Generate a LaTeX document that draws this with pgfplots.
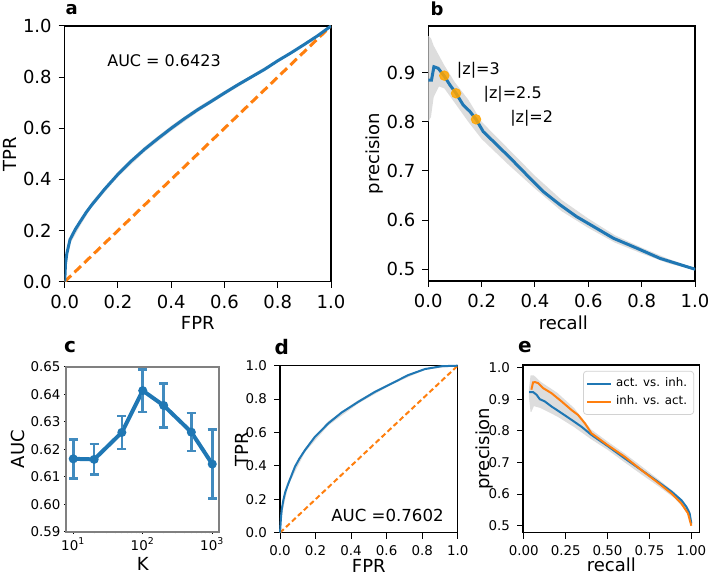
\documentclass[border=0pt]{standalone}
\usepackage{fontspec}
\setmainfont{DejaVu Sans}
\usepackage{pgfplots}
\pgfplotsset{compat=1.18}
\definecolor{mblue}{HTML}{1F77B4}
\definecolor{morange}{HTML}{FF7F0E}
\definecolor{dotor}{HTML}{FFA500}
\definecolor{band}{HTML}{DDDDDD}

\pgfplotsset{
  mpl/.style={
    scale only axis,
    anchor=south west,
    tick align=outside,
    tick pos=left,
    major tick length=3pt,
    minor tick length=1.7pt,
    every tick/.style={black,line width=0.5pt},
    axis line style={line width=0.6pt},
    /pgf/number format/assume math mode=true,
    title style={anchor=center,yshift=-6pt},
  },
  big/.style={
    ticklabel style={font=\fontsize{9}{11}\selectfont},
    label style={font=\fontsize{9}{11}\selectfont},
    title style={font=\bfseries\fontsize{9}{11}\selectfont},
  },
  small/.style={
    ticklabel style={font=\fontsize{6.7}{8}\selectfont},
    label style={font=\fontsize{9}{11}\selectfont},
    title style={font=\bfseries\fontsize{10}{12}\selectfont},
  },
}

\begin{document}
\begin{tikzpicture}
\useasboundingbox (0,0) rectangle (356pt,287pt);

% a: ROC
\begin{axis}[mpl,big,at={(32.35pt,146.15pt)},width=133.15pt,height=127.85pt,
  xmin=0,xmax=1,ymin=0,ymax=1,
  xtick={0,0.2,0.4,0.6,0.8,1},ytick={0,0.2,0.4,0.6,0.8,1},
  xticklabel style={/pgf/number format/.cd,fixed,fixed zerofill,precision=1},
  yticklabel style={/pgf/number format/.cd,fixed,fixed zerofill,precision=1},
  xlabel={FPR},ylabel={TPR},
  xlabel style={at={(axis description cs:0.5,-0.16)},anchor=center},
  ylabel style={at={(axis description cs:-0.205,0.5)},anchor=center},
  title={a},title style={at={(axis description cs:0.026,1.065)}}]
\addplot[fill=band,draw=none,forget plot] coordinates {
 (0,0) (0.003,0.08) (0.02,0.172) (0.06,0.242) (0.1,0.31) (0.2,0.43) (0.3,0.528)
 (0.4,0.61) (0.5,0.682) (0.6,0.746) (0.7,0.807) (0.8,0.869) (0.9,0.931) (1,1)
 (0.9,0.925) (0.8,0.859) (0.7,0.793) (0.6,0.73) (0.5,0.664) (0.4,0.59) (0.3,0.508)
 (0.2,0.41) (0.1,0.29) (0.06,0.222) (0.02,0.148) (0.003,0.06) (0,0)};
\addplot[morange,line width=1.5pt,dash pattern=on 4.5pt off 2.3pt] coordinates {(0,0) (1,1)};
\addplot[mblue,line width=1.5pt] coordinates {
 (0,0) (0.003,0.07) (0.008,0.11) (0.02,0.165) (0.04,0.205) (0.06,0.238) (0.08,0.27)
 (0.1,0.298) (0.15,0.362) (0.2,0.42) (0.25,0.472) (0.3,0.518) (0.35,0.56) (0.4,0.60)
 (0.45,0.638) (0.5,0.673) (0.55,0.705) (0.6,0.738) (0.65,0.77) (0.7,0.80)
 (0.75,0.83) (0.8,0.864) (0.85,0.895) (0.9,0.928) (0.95,0.962) (1,1)};
\node[font=\fontsize{8}{10}\selectfont] at (axis cs:0.373,0.863) {AUC = 0.6423};
\end{axis}

% b: precision-recall
\begin{axis}[mpl,big,at={(214.15pt,146.5pt)},width=133.35pt,height=127.5pt,
  xmin=0,xmax=1,ymin=0.476,ymax=0.995,
  xtick={0,0.2,0.4,0.6,0.8,1},ytick={0.5,0.6,0.7,0.8,0.9},
  xticklabel style={/pgf/number format/.cd,fixed,fixed zerofill,precision=1},
  yticklabel style={/pgf/number format/.cd,fixed,fixed zerofill,precision=1},
  xlabel={recall},ylabel={precision},
  xlabel style={at={(axis description cs:0.506,-0.165)},anchor=center},
  ylabel style={at={(axis description cs:-0.2,0.5)},anchor=center},
  title={b},title style={at={(axis description cs:0.033,1.067)}}]
\addplot[fill=band,draw=none,forget plot] coordinates {
 (0,0.975) (0.01,0.97) (0.02,0.955) (0.04,0.935) (0.06,0.915) (0.1,0.88) (0.15,0.845)
 (0.2,0.8) (0.3,0.745) (0.4,0.69) (0.5,0.641) (0.6,0.603) (0.7,0.569) (0.8,0.544)
 (0.9,0.521) (1,0.502)
 (1,0.498) (0.9,0.512) (0.8,0.532) (0.7,0.554) (0.6,0.584) (0.5,0.618) (0.4,0.664)
 (0.3,0.713) (0.2,0.765) (0.15,0.8) (0.1,0.838) (0.06,0.868) (0.04,0.872)
 (0.02,0.85) (0.01,0.81) (0,0.80)};
\addplot[mblue,line width=1.5pt] coordinates {
 (0,0.885) (0.012,0.885) (0.021,0.912) (0.037,0.909) (0.06,0.893) (0.081,0.875)
 (0.104,0.858) (0.131,0.834) (0.156,0.821) (0.179,0.805) (0.206,0.78) (0.244,0.76)
 (0.306,0.727) (0.369,0.692) (0.431,0.658) (0.494,0.631) (0.556,0.607) (0.619,0.587)
 (0.694,0.563) (0.781,0.543) (0.869,0.522) (1,0.5)};
\addplot[only marks,mark=*,mark size=2.4pt,color=dotor,fill opacity=0.85,draw opacity=0.85]
 coordinates {(0.06,0.894) (0.104,0.858) (0.179,0.805)};
\node[font=\fontsize{8}{10}\selectfont,anchor=base west,inner sep=0pt] at (axis cs:0.106,0.897) {|z|=3};
\node[font=\fontsize{8}{10}\selectfont,anchor=base west,inner sep=0pt] at (axis cs:0.206,0.848) {|z|=2.5};
\node[font=\fontsize{8}{10}\selectfont,anchor=base west,inner sep=0pt] at (axis cs:0.306,0.799) {|z|=2};
\end{axis}

% c: AUC vs K
\begin{axis}[mpl,small,xmode=log,at={(33.15pt,21.15pt)},width=76.45pt,height=82.5pt,
  xmin=7.943,xmax=1258.9,ymin=0.59,ymax=0.65,
  major tick length=1.2pt,minor tick length=0.8pt,
  xtick={10,100,1000},xticklabels={10\textsuperscript{1},10\textsuperscript{2},10\textsuperscript{3}},
  ytick={0.59,0.60,0.61,0.62,0.63,0.64,0.65},
  xticklabel style={inner sep=1.5pt},
  yticklabel style={inner sep=1.5pt,/pgf/number format/.cd,fixed,fixed zerofill,precision=2},
  axis line style={gray,line width=1pt},
  xlabel={K},ylabel={AUC},
  xlabel style={at={(axis description cs:0.5,-0.195)},anchor=center},
  ylabel style={at={(axis description cs:-0.316,0.5)},anchor=center},
  title={c},title style={at={(axis description cs:0.024,1.121)}}]
\addplot[mblue,line width=2pt,mark=*,mark size=1.2pt,
  error bars/.cd,y dir=both,y explicit,error mark=-,
  error bar style={line width=1.3pt,mblue!85},
  error mark options={rotate=90,mark size=2.3pt,line width=1.3pt,mblue!85}]
 coordinates {
 (10,0.6165) +- (0,0.0071)
 (20,0.6163) +- (0,0.0056)
 (50,0.6261) +- (0,0.0060)
 (100,0.6413) +- (0,0.0077)
 (200,0.6359) +- (0,0.0080)
 (500,0.6262) +- (0,0.0069)
 (1000,0.6146) +- (0,0.0126)};
\end{axis}

% d: ROC
\begin{axis}[mpl,small,at={(140pt,20.65pt)},width=88.85pt,height=83.5pt,
  xmin=0,xmax=1,ymin=0,ymax=1,clip=false,
  xtick={0,0.2,0.4,0.6,0.8,1},ytick={0,0.2,0.4,0.6,0.8,1},
  xticklabel style={/pgf/number format/.cd,fixed,fixed zerofill,precision=1},
  yticklabel style={/pgf/number format/.cd,fixed,fixed zerofill,precision=1},
  xlabel={FPR},
  xlabel style={at={(axis description cs:0.5,-0.2)},anchor=center},
  title={d},title style={at={(axis description cs:0.01,1.114)}}]
\addplot[fill=band,draw=none,forget plot] coordinates {
 (0,0) (0.006,0.106) (0.047,0.305) (0.141,0.507) (0.272,0.668) (0.441,0.794)
 (0.629,0.9) (0.816,0.984) (1,1)
 (0.816,0.976) (0.629,0.888) (0.441,0.774) (0.272,0.642) (0.141,0.483)
 (0.047,0.285) (0.006,0.086) (0,0)};
\addplot[morange,line width=1pt,dash pattern=on 2.6pt off 1.5pt] coordinates {(0,0) (1,1)};
\addplot[mblue,line width=1pt] coordinates {
 (0,0) (0.006,0.096) (0.01,0.14) (0.019,0.196) (0.03,0.245) (0.047,0.295) (0.06,0.33)
 (0.084,0.395) (0.11,0.445) (0.141,0.495) (0.197,0.575) (0.272,0.655) (0.347,0.72)
 (0.441,0.784) (0.535,0.844) (0.629,0.894) (0.722,0.944) (0.816,0.98) (0.91,0.997) (1,1)};
\node[font=\fontsize{8.3}{10}\selectfont] at (axis cs:0.605,0.106) {AUC =0.7602};
\node[font=\fontsize{9}{11}\selectfont,rotate=90,anchor=center] at (axis description cs:-0.215,0.5) {TPR};
\end{axis}

% e: precision-recall, two directions
\begin{axis}[mpl,small,at={(261.5pt,20.65pt)},width=88.35pt,height=83.85pt,
  xmin=-0.005,xmax=1.05,ymin=0.478,ymax=1.008,
  xtick={0,0.25,0.5,0.75,1},ytick={0.5,0.6,0.7,0.8,0.9,1},
  xticklabel style={/pgf/number format/.cd,fixed,fixed zerofill,precision=2},
  yticklabel style={/pgf/number format/.cd,fixed,fixed zerofill,precision=1},
  xlabel={recall},ylabel={precision},
  xlabel style={at={(axis description cs:0.5,-0.193)},anchor=center},
  ylabel style={at={(axis description cs:-0.22,0.5)},anchor=center},
  title={e},title style={at={(axis description cs:0.011,1.107)}},
  legend style={at={(axis description cs:0.968,0.965)},anchor=north east,
    font=\fontsize{5.9}{7}\selectfont,draw=gray!35,rounded corners=1.5pt,
    fill=white,inner sep=1.3pt,row sep=-1pt},
  legend cell align=left,
  legend image code/.code={\draw[#1,line width=1pt] (0pt,0pt) -- (12pt,0pt);}]
\addplot[fill=band,draw=none,forget plot] coordinates {
 (0.03,0.93) (0.04,0.975) (0.06,0.975) (0.1,0.955) (0.2,0.92) (0.3,0.872) (0.4,0.805)
 (0.5,0.766) (0.6,0.729) (0.7,0.689) (0.8,0.648) (0.9,0.606) (0.95,0.58) (0.99,0.55) (1,0.505)
 (1,0.498) (0.99,0.53) (0.95,0.558) (0.9,0.587) (0.8,0.626) (0.7,0.663) (0.6,0.701)
 (0.5,0.74) (0.4,0.774) (0.3,0.812) (0.2,0.845) (0.1,0.872) (0.06,0.878) (0.045,0.86)
 (0.04,0.86) (0.03,0.91)};
\addplot[mblue,line width=1pt] coordinates {
 (0.032,0.922) (0.056,0.922) (0.076,0.914) (0.095,0.90) (0.125,0.893) (0.165,0.877)
 (0.225,0.856) (0.284,0.835) (0.344,0.813) (0.404,0.787) (0.5,0.752) (0.602,0.713)
 (0.702,0.676) (0.801,0.639) (0.881,0.608) (0.94,0.581) (0.97,0.56) (0.99,0.539) (1,0.507)};
\addlegendentry{act. vs. inh.}
\addplot[morange,line width=1pt] coordinates {
 (0.045,0.93) (0.055,0.953) (0.066,0.954) (0.085,0.951) (0.115,0.935) (0.165,0.919)
 (0.225,0.893) (0.284,0.866) (0.324,0.85) (0.364,0.824) (0.404,0.792) (0.5,0.755)
 (0.602,0.718) (0.702,0.676) (0.801,0.636) (0.881,0.602) (0.94,0.571) (0.98,0.539) (1,0.5)};
\addlegendentry{inh. vs. act.}
\end{axis}
\end{tikzpicture}
\end{document}
